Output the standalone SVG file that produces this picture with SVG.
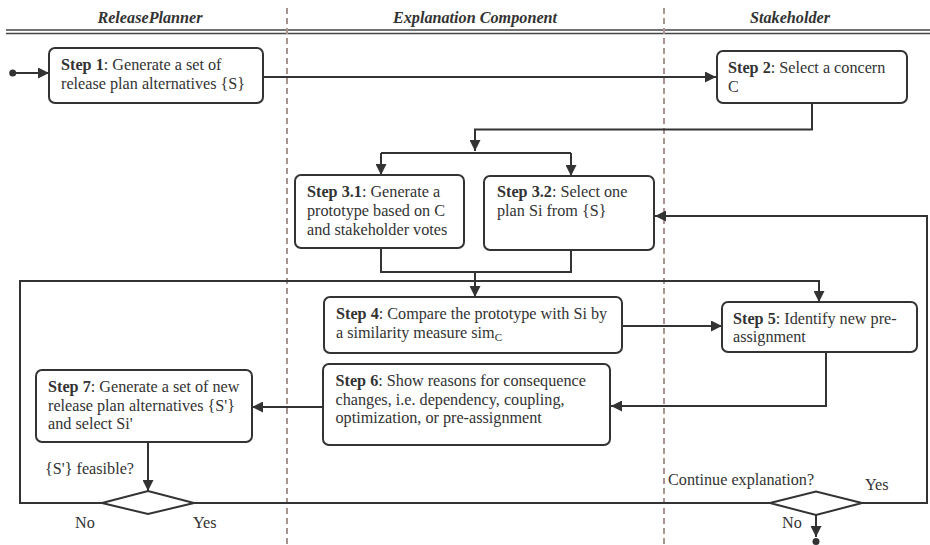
<svg xmlns="http://www.w3.org/2000/svg" width="930" height="545" viewBox="0 0 930 545" font-family="'Liberation Serif', 'Times New Roman', serif">
<defs>
<marker id="arr" markerUnits="userSpaceOnUse" markerWidth="11" markerHeight="11" refX="11" refY="5.5" orient="auto">
<path d="M0,0 L11,5.5 L0,11 z" fill="#333"/>
</marker>
</defs>
<style>
text{font-family:'Liberation Serif','Times New Roman',serif;font-size:16.2px;fill:#333}
.hd{font-weight:bold;font-style:italic;text-anchor:middle}
.b{font-weight:bold}
.box{fill:#fff;stroke:#333;stroke-width:2}
.ln{fill:none;stroke:#333;stroke-width:2}
.lane{stroke:#a8958f;stroke-width:2;stroke-dasharray:6,4}
.dbl{stroke:#444;stroke-width:1.5}
</style>
<rect width="930" height="545" fill="#fff"/>
<g id="lanes">
<line class="dbl" x1="6" y1="30" x2="930" y2="30"/>
<line class="dbl" x1="6" y1="33.5" x2="930" y2="33.5"/>
<line class="lane" x1="287" y1="8" x2="287" y2="545"/>
<line class="lane" x1="664" y1="8" x2="664" y2="545"/>
<text class="hd" x="150" y="22.5">ReleasePlanner</text>
<text class="hd" x="475" y="22.5">Explanation Component</text>
<text class="hd" x="790" y="22.5">Stakeholder</text>
</g>
<g id="connectors">
<circle cx="12.7" cy="73" r="3.5" fill="#333"/>
<path class="ln" d="M12.7,73 H49" marker-end="url(#arr)"/>
<path class="ln" d="M263,77 H716" marker-end="url(#arr)"/>
<path class="ln" d="M812,103 V129.5 H475 V151" marker-end="url(#arr)"/>
<path class="ln" d="M381,153 H571"/>
<path class="ln" d="M381,153 V175" marker-end="url(#arr)"/>
<path class="ln" d="M571,153 V176" marker-end="url(#arr)"/>
<path class="ln" d="M381,248 V272 H571 V250"/>
<path class="ln" d="M475,272 V297" marker-end="url(#arr)"/>
<path class="ln" d="M102,503 H20 V281 H819 V302" marker-end="url(#arr)"/>
<path class="ln" d="M622,326 H722" marker-end="url(#arr)"/>
<path class="ln" d="M826,352 V406 H611" marker-end="url(#arr)"/>
<path class="ln" d="M323,407 H252" marker-end="url(#arr)"/>
<path class="ln" d="M148,442 V491" marker-end="url(#arr)"/>
<path class="ln" d="M193,503 H770"/>
<path class="ln" d="M816,515 V537" marker-end="url(#arr)"/>
<circle cx="816" cy="541.5" r="3.5" fill="#333"/>
<path class="ln" d="M862,503 H927 V216 H655" marker-end="url(#arr)"/>
</g>
<g id="step1">
<rect class="box" x="49" y="48" width="214" height="55" rx="6"/>
<text x="61" y="70"><tspan class="b">Step 1</tspan>: Generate a set of</text>
<text x="61" y="89">release plan alternatives {S}</text>
</g>
<g id="step2">
<rect class="box" x="717" y="51" width="190" height="52" rx="6"/>
<text x="728" y="73"><tspan class="b">Step 2</tspan>: Select a concern</text>
<text x="728" y="92">C</text>
</g>
<g id="step31">
<rect class="box" x="295" y="175" width="169" height="73" rx="6"/>
<text x="307" y="197"><tspan class="b">Step 3.1</tspan>: Generate a</text>
<text x="307" y="216">prototype based on C</text>
<text x="307" y="235">and stakeholder votes</text>
</g>
<g id="step32">
<rect class="box" x="484" y="176" width="170" height="74" rx="6"/>
<text x="497" y="197"><tspan class="b">Step 3.2</tspan>: Select one</text>
<text x="497" y="216">plan Si from {S}</text>
</g>
<g id="step4">
<rect class="box" x="324" y="297" width="298" height="56" rx="6"/>
<text x="336" y="319"><tspan class="b">Step 4</tspan>: Compare the prototype with Si by</text>
<text x="336" y="338">a similarity measure sim<tspan font-size="11" dy="3">C</tspan></text>
</g>
<g id="step5">
<rect class="box" x="722" y="302" width="195" height="50" rx="6"/>
<text x="733" y="324"><tspan class="b">Step 5</tspan>: Identify new pre-</text>
<text x="733" y="342">assignment</text>
</g>
<g id="step6">
<rect class="box" x="323" y="364" width="287" height="81" rx="6"/>
<text x="335.5" y="386"><tspan class="b">Step 6</tspan>: Show reasons for consequence</text>
<text x="335.5" y="404.5">changes, i.e. dependency, coupling,</text>
<text x="335.5" y="423">optimization, or pre-assignment</text>
</g>
<g id="step7">
<rect class="box" x="36" y="370" width="216" height="72" rx="6"/>
<text x="48" y="392"><tspan class="b">Step 7</tspan>: Generate a set of new</text>
<text x="48" y="410.5">release plan alternatives {S'}</text>
<text x="48" y="429">and select Si'</text>
</g>
<g id="decision1">
<polygon class="box" points="102,503 148,491 194,503 148,514"/>
<text x="45" y="474">{S'} feasible?</text>
<text x="75" y="528">No</text>
<text x="193" y="528">Yes</text>
</g>
<g id="decision2">
<polygon class="box" points="770,503 816,491.5 862,503 816,515"/>
<text x="668" y="485">Continue explanation?</text>
<text x="865" y="490">Yes</text>
<text x="782" y="528">No</text>
</g>
</svg>
